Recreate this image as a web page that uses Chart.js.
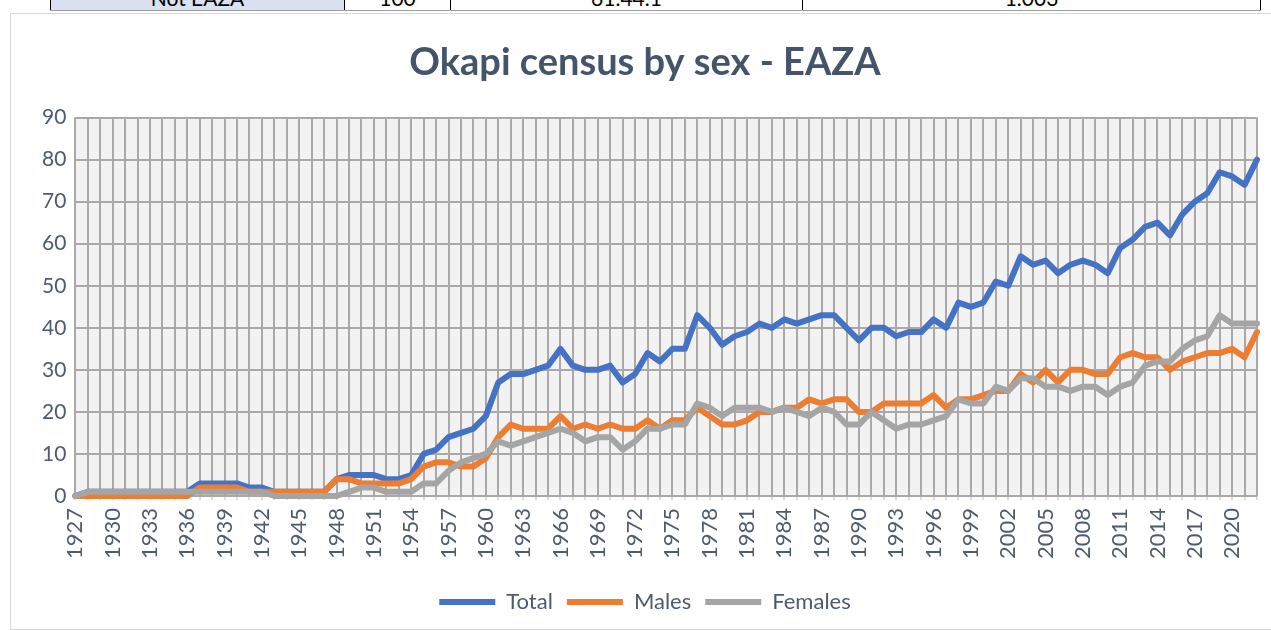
<!DOCTYPE html>
<html>
<head>
<meta charset="utf-8">
<script src="https://cdn.jsdelivr.net/npm/chart.js@4.4.1/dist/chart.umd.min.js"></script>
<style>
  body { margin: 0; background: #ffffff; font-family: Lato, "Open Sans", sans-serif; }
  #tbl { position: absolute; left: 50px; top: -14px; height: 24px; display: flex; border-bottom: 1px solid #9e9e9e; }
  #tbl div { height: 24px; line-height: 24px; font-size: 21px; color: #000; text-align: center; border-right: 1px solid #000; box-sizing: border-box; }
  #tbl div:first-child { border-left: 1px solid #000; background: #D9E1F2; }
  #box { position: absolute; left: 10px; top: 13px; width: 1261px; height: 617px; border: 1px solid #D9D9D9; border-right: none; box-sizing: border-box; }
</style>
</head>
<body>
<div id="tbl">
  <div style="width:295px">Not EAZA</div>
  <div style="width:106px">100</div>
  <div style="width:352px">61.44.1</div>
  <div style="width:458px">1.003</div>
</div>
<div id="box"><canvas id="okapiChart"></canvas></div>
<script>
// 데이터
const years = [
  "1927", "1928", "1929", "1930", "1931", "1932", "1933", "1934", "1935", "1936",
  "1937", "1938", "1939", "1940", "1941", "1942", "1943", "1944", "1945", "1946",
  "1947", "1948", "1949", "1950", "1951", "1952", "1953", "1954", "1955", "1956",
  "1957", "1958", "1959", "1960", "1961", "1962", "1963", "1964", "1965", "1966",
  "1967", "1968", "1969", "1970", "1971", "1972", "1973", "1974", "1975", "1976",
  "1977", "1978", "1979", "1980", "1981", "1982", "1983", "1984", "1985", "1986",
  "1987", "1988", "1989", "1990", "1991", "1992", "1993", "1994", "1995", "1996",
  "1997", "1998", "1999", "2000", "2001", "2002", "2003", "2004", "2005", "2006",
  "2007", "2008", "2009", "2010", "2011", "2012", "2013", "2014", "2015", "2016",
  "2017", "2018", "2019", "2020", "2021", "2022",
];
const total = [
  0, 1, 1, 1, 1, 1, 1, 1, 1, 1,
  3, 3, 3, 3, 2, 2, 1, 1, 1, 1,
  1, 4, 5, 5, 5, 4, 4, 5, 10, 11,
  14, 15, 16, 19, 27, 29, 29, 30, 31, 35,
  31, 30, 30, 31, 27, 29, 34, 32, 35, 35,
  43, 40, 36, 38, 39, 41, 40, 42, 41, 42,
  43, 43, 40, 37, 40, 40, 38, 39, 39, 42,
  40, 46, 45, 46, 51, 50, 57, 55, 56, 53,
  55, 56, 55, 53, 59, 61, 64, 65, 62, 67,
  70, 72, 77, 76, 74, 80,
];
const males = [
  0, 0, 0, 0, 0, 0, 0, 0, 0, 0,
  2, 2, 2, 2, 1, 1, 1, 1, 1, 1,
  1, 4, 4, 3, 3, 3, 3, 4, 7, 8,
  8, 7, 7, 9, 14, 17, 16, 16, 16, 19,
  16, 17, 16, 17, 16, 16, 18, 16, 18, 18,
  21, 19, 17, 17, 18, 20, 20, 21, 21, 23,
  22, 23, 23, 20, 20, 22, 22, 22, 22, 24,
  21, 23, 23, 24, 25, 25, 29, 27, 30, 27,
  30, 30, 29, 29, 33, 34, 33, 33, 30, 32,
  33, 34, 34, 35, 33, 39,
];
const females = [
  0, 1, 1, 1, 1, 1, 1, 1, 1, 1,
  1, 1, 1, 1, 1, 1, 0, 0, 0, 0,
  0, 0, 1, 2, 2, 1, 1, 1, 3, 3,
  6, 8, 9, 10, 13, 12, 13, 14, 15, 16,
  15, 13, 14, 14, 11, 13, 16, 16, 17, 17,
  22, 21, 19, 21, 21, 21, 20, 21, 20, 19,
  21, 20, 17, 17, 20, 18, 16, 17, 17, 18,
  19, 23, 22, 22, 26, 25, 28, 28, 26, 26,
  25, 26, 26, 24, 26, 27, 31, 32, 32, 35,
  37, 38, 43, 41, 41, 41,
];

const textColor = "#4E5B6E";
const gridColor = "#ABA8A8";

// 플롯 영역 배경
const plotBg = {
  id: "plotBg",
  beforeDraw(chart) {
    const { ctx, chartArea: a } = chart;
    ctx.save();
    ctx.fillStyle = "#F2F2F2";
    ctx.fillRect(a.left, a.top, a.right - a.left, a.bottom - a.top);
    ctx.restore();
  },
};

function lineSet(label, data, color, order) {
  return {
    label: label,
    data: data,
    borderColor: color,
    backgroundColor: color,
    borderWidth: 6,
    borderCapStyle: "round",
    borderJoinStyle: "round",
    pointRadius: 0,
    tension: 0,
    clip: false,
    order: order,
  };
}

const ctx = document.getElementById("okapiChart").getContext("2d");
let okapiChart = new Chart(ctx, {
  type: "line",
  data: {
    labels: years,
    datasets: [
      lineSet("Total", total, "#4472C4", 3),
      lineSet("Males", males, "#ED7D31", 2),
      lineSet("Females", females, "#A5A5A5", 1),
    ],
  },
  options: {
    responsive: true,
    maintainAspectRatio: false,
    animation: false,
    layout: { padding: { left: 22, right: 14, top: 0, bottom: 6 } },
    scales: {
      x: {
        offset: false,
        grid: { color: gridColor, lineWidth: 2, tickLength: 4, tickColor: "#D6DCE5" },
        border: { display: false },
        afterFit(scale) {
          scale.height = 81;
          scale.paddingLeft = 0;
          scale.paddingRight = 0;
        },
        ticks: {
          autoSkip: false,
          minRotation: 90,
          maxRotation: 90,
          padding: 8,
          color: textColor,
          font: { family: "Lato", size: 22 },
          callback: function (v, i) {
            return i % 3 === 0 ? years[i] : "";
          },
        },
      },
      y: {
        min: 0,
        max: 90,
        grid: { color: gridColor, lineWidth: 2, drawTicks: false },
        border: { display: false },
        ticks: {
          stepSize: 10,
          padding: 9,
          color: textColor,
          font: { family: "Lato", size: 21 },
        },
      },
    },
    plugins: {
      title: {
        display: true,
        text: "Okapi census by sex - EAZA",
        color: "#44546A",
        font: { family: "Lato", size: 38, weight: "bold" },
        padding: { top: 26, bottom: 32 },
      },
      legend: {
        position: "bottom",
        labels: {
          usePointStyle: true,
          pointStyle: "line",
          pointStyleWidth: 56,
          color: textColor,
          font: { family: "Lato", size: 22 },
          padding: 14,
          sort: (a, b) => a.datasetIndex - b.datasetIndex,
        },
      },
      tooltip: { enabled: false },
    },
  },
  plugins: [plotBg],
});
</script>
</body>
</html>
